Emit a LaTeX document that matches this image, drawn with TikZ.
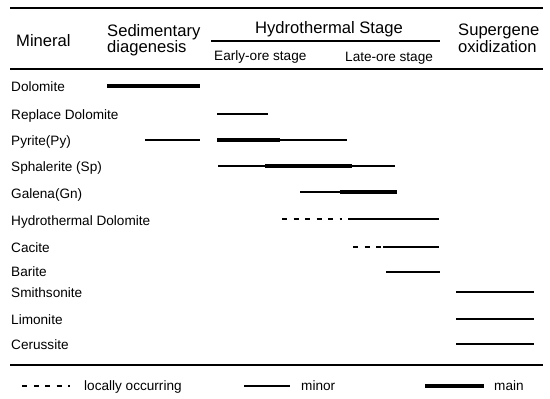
\documentclass[tikz,border=0pt]{standalone}
\usepackage{fontspec}
\setmainfont{Liberation Sans}
\begin{document}
\begin{tikzpicture}[x=1pt,y=-1pt,
  lbl/.style={anchor=base west,inner sep=0pt,font=\fontsize{13.6}{16}\selectfont},
  hdr/.style={anchor=base west,inner sep=0pt,font=\fontsize{16.6}{19}\selectfont},
  rule/.style={line width=1.8pt},
  thinbar/.style={line width=1.7pt},
  thickbar/.style={line width=3.6pt},
  dashbar/.style={line width=1.8pt,dash pattern=on 5pt off 6.5pt}]
\useasboundingbox (0,0) rectangle (550,399);
% rules
\draw[rule] (10,8) -- (543,8);
\draw[rule] (211,41) -- (440,41);
\draw[rule] (10,69) -- (543,69);
\draw[rule] (10,365) -- (543,365);
% header
\node[hdr] (hmin) at (16,46) {Mineral};
\node[hdr] (hsed1) at (107,36) {Sedimentary};
\node[hdr] (hsed2) at (107,52) {diagenesis};
\node[hdr] (hhyd) at (255,33) {Hydrothermal Stage};
\node[lbl] (hearly) at (214,60.5) {Early-ore stage};
\node[lbl] (hlate) at (345,61) {Late-ore stage};
\node[hdr] (hsup1) at (458,35) {Supergene};
\node[hdr] (hsup2) at (458,52) {oxidization};
% row labels
\node[lbl] (ldol) at (11,91.5) {Dolomite};
\node[lbl] (lrep) at (11,119) {Replace Dolomite};
\node[lbl] (lpy) at (11,145) {Pyrite(Py)};
\node[lbl] (lsp) at (11,171) {Sphalerite (Sp)};
\node[lbl] (lgn) at (11,198) {Galena(Gn)};
\node[lbl] (lhd) at (11,225) {Hydrothermal Dolomite};
\node[lbl] (lca) at (11,252) {Cacite};
\node[lbl] (lba) at (11,276) {Barite};
\node[lbl] (lsm) at (11,297.5) {Smithsonite};
\node[lbl] (lli) at (11,324) {Limonite};
\node[lbl] (lce) at (11,349) {Cerussite};
% bars
\draw[thickbar] (107,86) -- (200,86);
\draw[thinbar] (217,114) -- (268,114);
\draw[thinbar] (145,140) -- (200,140);
\draw[thickbar] (217,140) -- (280,140);
\draw[thinbar] (280,140) -- (347,140);
\draw[thinbar] (218,166) -- (265,166);
\draw[thickbar] (265,166) -- (352,166);
\draw[thinbar] (352,166) -- (395,166);
\draw[thinbar] (300,192) -- (340,192);
\draw[thickbar] (340,192) -- (397,192);
\draw[dashbar] (282,219) -- (342,219);
\draw[thinbar] (348,219) -- (439,219);
\draw[dashbar] (353,247) -- (383,247);
\draw[thinbar] (383,247) -- (439,247);
\draw[thinbar] (386,272) -- (440,272);
\draw[thinbar] (456,292) -- (534,292);
\draw[thinbar] (456,319) -- (534,319);
\draw[thinbar] (456,344) -- (534,344);
% legend
\draw[dashbar] (22,386) -- (70,386);
\node[lbl] (leg1) at (84,390) {locally occurring};
\draw[thinbar] (244,386) -- (290,386);
\node[lbl] (leg2) at (301,390) {minor};
\draw[thickbar] (425,386) -- (484,386);
\node[lbl] (leg3) at (494,390) {main};
\end{tikzpicture}
\end{document}
